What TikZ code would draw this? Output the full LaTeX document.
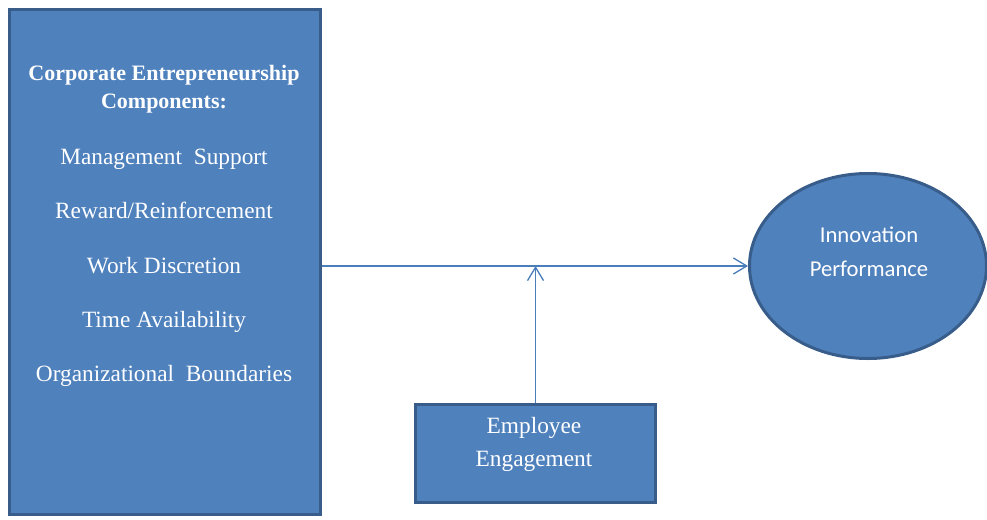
\documentclass[tikz,border=0pt]{standalone}
\usepackage{fontspec}
\setmainfont{Liberation Serif}
\newfontfamily\calibrifont{Carlito}
\usetikzlibrary{shapes.geometric, arrows.meta}
\definecolor{boxfill}{HTML}{4F81BD}
\definecolor{boxline}{HTML}{385D8A}
\definecolor{arrowblue}{HTML}{4A7EBB}

\begin{document}
\begin{tikzpicture}[x=0.75pt, y=-0.75pt, >={Straight Barb[length=10pt,width=12pt]},
    blockbox/.style={draw=boxline, fill=boxfill, line width=2.25pt, rectangle, inner sep=0pt},
    roundbox/.style={draw=boxline, fill=boxfill, line width=2.25pt, ellipse, inner sep=0pt},
    titletext/.style={text=white, inner sep=0pt, align=center, font=\bfseries\fontsize{16.5}{21}\selectfont},
    comptext/.style={text=white, inner sep=0pt, anchor=base, font=\fontsize{17.5}{21}\selectfont},
    boxtext/.style={text=white, inner sep=0pt, align=center, anchor=north, font=\fontsize{17.5}{25}\selectfont},
    conn/.style={->, draw=arrowblue, line width=1pt}]
    \useasboundingbox (0,0) rectangle (987,520);
    	% boxes
    	\node[blockbox, minimum width=233.25pt, minimum height=378.75pt] (ce) at (165,262) {};
    	\node[blockbox, minimum width=180pt, minimum height=73.5pt] (ee) at (535.5,453.5) {};
    	\node[roundbox, minimum width=177.75pt, minimum height=138.75pt] (ip) at (868,266) {};
    	% texts
    	\node[titletext, anchor=north] (cetitle) at (164,65) {Corporate Entrepreneurship\\Components:};
    	\foreach \lbl [count=\i] in {Management~ Support, Reward/Reinforcement, Work Discretion, Time Availability, Organizational~ Boundaries}
    		\node[comptext] (comp\i) at (164,{165+54*(\i-1)}) {\lbl};
    	\node[boxtext] (eetext) at (534,417) {Employee\\Engagement};
    	\node[boxtext, font=\calibrifont\fontsize{17}{25}\selectfont] (iptext) at (869,227) {Innovation\\Performance};
    	% connectors
    	\draw[conn] (ce.east |- ip.west) -- (ip.west);
    	\draw[conn] (ee.north) -- (ee.north |- ip.west);
    \end{tikzpicture}
\end{document}
